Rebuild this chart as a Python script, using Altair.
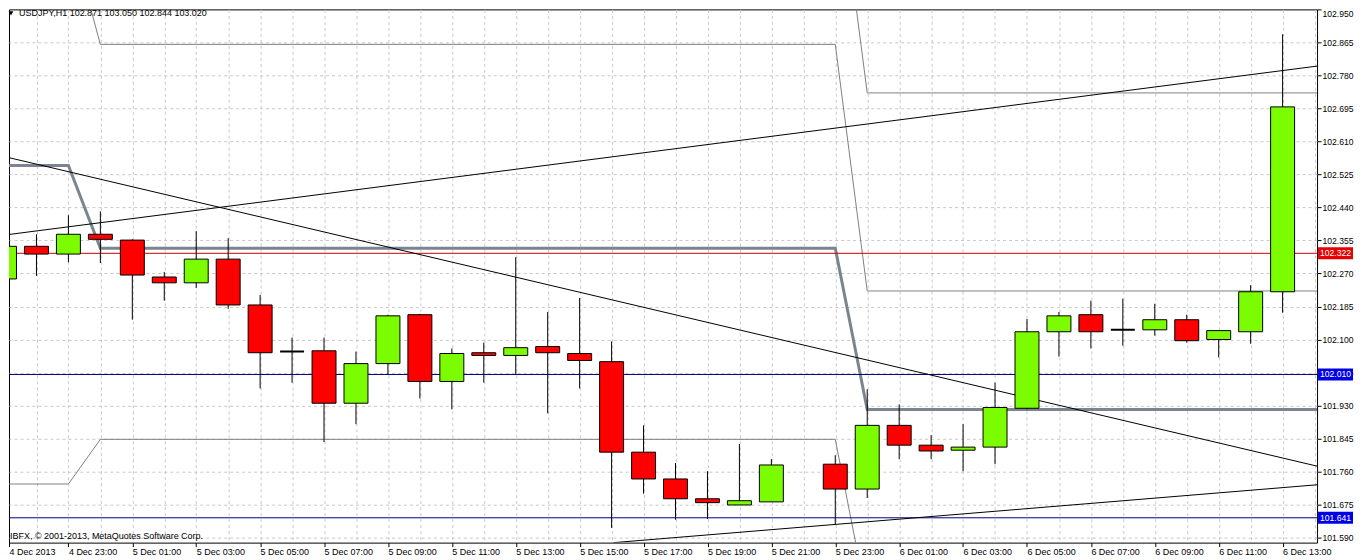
import altair as alt
import pandas as pd

# ---------------- data ----------------
# bar index: hours after 4 Dec 2013 21:00 (bar 25 = 5 Dec 22:00 not drawn)
BAR_K = [0, 1, 2, 3, 4, 5, 6, 7, 8, 9, 10, 11, 12, 13, 14, 15, 16, 17, 18, 19,
         20, 21, 22, 23, 24, 26, 27, 28, 29, 30, 31, 32, 33, 34, 35, 36, 37, 38, 39, 40]
OPEN = [102.256, 102.340, 102.320, 102.371, 102.356, 102.261, 102.246, 102.307, 102.189, 102.069,
        102.071, 101.936, 102.038, 102.164, 101.992, 102.066, 102.059, 102.082, 102.064, 102.043,
        101.810, 101.741, 101.690, 101.674, 101.682, 101.779, 101.715, 101.879, 101.828, 101.815,
        101.823, 101.923, 102.120, 102.164, 102.125, 102.125, 102.151, 102.100, 102.120, 102.223]
HIGH = [102.346, 102.371, 102.420, 102.430, 102.358, 102.274, 102.379, 102.361, 102.215, 102.105,
        102.105, 102.069, 102.164, 102.166, 102.077, 102.092, 102.312, 102.171, 102.207, 102.095,
        101.879, 101.782, 101.761, 101.831, 101.792, 101.802, 101.972, 101.933, 101.854, 101.882,
        101.989, 102.153, 102.171, 102.200, 102.205, 102.192, 102.164, 102.123, 102.240, 102.886]
LOW = [102.189, 102.264, 102.299, 102.297, 102.151, 102.200, 102.233, 102.179, 101.974, 101.989,
       101.836, 101.882, 102.010, 101.948, 101.920, 101.989, 102.010, 101.910, 101.974, 101.615,
       101.703, 101.636, 101.638, 101.674, 101.682, 101.623, 101.692, 101.792, 101.792, 101.761,
       101.779, 101.920, 102.056, 102.077, 102.084, 102.110, 102.092, 102.054, 102.089, 102.169]
CLOSE = [102.340, 102.320, 102.371, 102.358, 102.266, 102.246, 102.307, 102.189, 102.066, 102.069,
         101.936, 102.038, 102.161, 101.992, 102.064, 102.059, 102.079, 102.066, 102.046, 101.810,
         101.741, 101.690, 101.680, 101.685, 101.777, 101.715, 101.879, 101.828, 101.813, 101.823,
         101.925, 102.120, 102.161, 102.120, 102.125, 102.151, 102.097, 102.123, 102.223, 102.699]

TIME_LABELS = ["4 Dec 2013", "4 Dec 23:00", "5 Dec 01:00", "5 Dec 03:00", "5 Dec 05:00",
               "5 Dec 07:00", "5 Dec 09:00", "5 Dec 11:00", "5 Dec 13:00", "5 Dec 15:00",
               "5 Dec 17:00", "5 Dec 19:00", "5 Dec 21:00", "5 Dec 23:00", "6 Dec 01:00",
               "6 Dec 03:00", "6 Dec 05:00", "6 Dec 07:00", "6 Dec 09:00", "6 Dec 11:00",
               "6 Dec 13:00"]
Y_TICKS = [101.590, 101.675, 101.760, 101.845, 101.930, 102.015, 102.100, 102.185, 102.270,
           102.355, 102.440, 102.525, 102.610, 102.695, 102.780, 102.865, 102.950]

# thick gray pivot step line
PIVOT_K = [0, 2, 3, 26, 27, 42]
PIVOT_V = [102.548, 102.548, 102.335, 102.335, 101.920, 101.920]
# thin gray band lines
UPPER_K = [0, 2, 3, 26, 27, 42]
UPPER_V = [103.165, 103.165, 102.860, 102.860, 102.225, 102.225]
R2_K = [26, 27, 42]
R2_V = [103.370, 102.735, 102.735]
LOWER_K = [0, 2, 3, 26, 27, 42]
LOWER_V = [101.728, 101.728, 101.843, 101.843, 101.426, 101.426]
# black trend lines
TREND_DOWN_K = [0, 41.08]
TREND_DOWN_V = [102.571, 101.774]
TREND_UP_K = [0, 41.08]
TREND_UP_V = [102.369, 102.804]
TREND_LOW_K = [19.06, 41.08]
TREND_LOW_V = [101.577, 101.726]
# horizontal price levels
LEVELS = [102.322, 102.010, 101.641]
LEVEL_LINE_COLORS = ["#C80000", "#000080", "#000080"]
LEVEL_BOX_COLORS = ["#E60000", "#0000E6", "#0000E6"]

TITLE = "USDJPY,H1  102.871 103.050 102.844 103.020"
COPYRIGHT = "IBFX, \u00a9 2001-2013, MetaQuotes Software Corp."

# ---------------- chart ----------------
FONT = "Liberation Sans"
FS = 9
YFS = 8.6
W, H = 1310, 534
XMIN = 0.140625
XMAX = XMIN + W / 32.0
YMIN, YMAX = 101.5771, 102.950

candles = pd.DataFrame({"k": BAR_K, "o": OPEN, "h": HIGH, "l": LOW, "c": CLOSE})
candles["fill"] = [
    "#7CFC00" if c > o else ("#FF0000" if c < o else "#000000")
    for o, c in zip(OPEN, CLOSE)
]
candles["sw"] = [2 if c == o else 1 for o, c in zip(OPEN, CLOSE)]

thin = pd.concat([
    pd.DataFrame({"k": UPPER_K, "v": UPPER_V, "s": "upper"}),
    pd.DataFrame({"k": R2_K, "v": R2_V, "s": "r2"}),
    pd.DataFrame({"k": LOWER_K, "v": LOWER_V, "s": "lower"}),
])
pivot = pd.DataFrame({"k": PIVOT_K, "v": PIVOT_V})
trends = pd.concat([
    pd.DataFrame({"k": TREND_DOWN_K, "v": TREND_DOWN_V, "s": "down"}),
    pd.DataFrame({"k": TREND_UP_K, "v": TREND_UP_V, "s": "up"}),
    pd.DataFrame({"k": TREND_LOW_K, "v": TREND_LOW_V, "s": "low"}),
])
levels = pd.DataFrame({"v": LEVELS, "line": LEVEL_LINE_COLORS, "box": LEVEL_BOX_COLORS})

xs = alt.Scale(domain=[XMIN, XMAX], nice=False, zero=False, padding=0)
ys = alt.Scale(domain=[YMIN, YMAX], nice=False, zero=False, padding=0)

labels_js = "[" + ",".join("'" + t + "'" for t in TIME_LABELS) + "]"
x_axis = alt.Axis(
    values=[XMIN] + list(range(1, 42)),
    labelExpr=f"datum.value < 1 ? {labels_js}[0] : (datum.value % 2 == 0 ? {labels_js}[datum.value / 2] : '')",
    grid=True, gridDash=[3, 3], gridColor="#c8c8c8", gridWidth=1,
    gridOpacity={"condition": {"test": "datum.value < 1", "value": 0}, "value": 1},
    tickSize=4, tickColor="black",
    tickOpacity={"condition": {"test": "datum.value < 1 || datum.value % 2 == 0", "value": 1}, "value": 0},
    labelAlign="left", labelPadding=1, labelFont=FONT, labelFontSize=FS, labelColor="black",
    labelOverlap=False, domain=False, title=None,
)
y_axis = alt.Axis(
    orient="right", values=Y_TICKS, format=".3f",
    grid=True, gridDash=[3, 3], gridColor="#c8c8c8", gridWidth=1,
    gridOpacity={"condition": {"test": "datum.value > 102.94", "value": 0}, "value": 1},
    tickSize=4, tickColor="black", labelPadding=1, labelAlign="left",
    labelFont=FONT, labelFontSize=YFS, labelColor="black", labelFlush=True,
    labelOverlap=False, domain=False, title=None,
)

X = lambda f: alt.X(f, type="quantitative", scale=xs, axis=x_axis)
Y = lambda f: alt.Y(f, type="quantitative", scale=ys, axis=y_axis)

thin_layer = alt.Chart(thin).mark_line(color="#808080", strokeWidth=1, clip=True).encode(
    x=X("k"), y=Y("v"), detail="s:N")
pivot_layer = alt.Chart(pivot).mark_line(color="#7A858F", strokeWidth=3, clip=True).encode(
    x=X("k"), y=Y("v"))
level_layer = alt.Chart(levels).mark_rule(strokeWidth=1, clip=True).encode(
    y=Y("v"), color=alt.Color("line:N", scale=None))
trend_layer = alt.Chart(trends).mark_line(color="black", strokeWidth=1, clip=True).encode(
    x=X("k"), y=Y("v"), detail="s:N")
wick_layer = alt.Chart(candles).mark_rule(color="black", strokeWidth=1, clip=True).encode(
    x=X("k"), y=Y("l"), y2="h")
body_layer = alt.Chart(candles).mark_bar(size=24, stroke="black", clip=True,
                                         opacity=1).encode(
    x=X("k"), y=Y("o"), y2="c", fill=alt.Fill("fill:N", scale=None),
    strokeWidth=alt.StrokeWidth("sw:Q", scale=None))
box_layer = alt.Chart(levels).mark_tick(orient="horizontal", thickness=12, size=35,
                                        clip=False, opacity=1).encode(
    x=alt.value(W + 18.5), y=Y("v"), color=alt.Color("box:N", scale=None))
box_text = alt.Chart(levels).mark_text(align="center", baseline="middle", color="white",
                                       font=FONT, fontSize=YFS, clip=False).encode(
    x=alt.value(W + 18.5), y=Y("v"), text=alt.Text("v:Q", format=".3f"))
title_text = alt.Chart(pd.DataFrame({"t": [TITLE]})).mark_text(
    align="left", baseline="top", color="black", font=FONT, fontSize=FS).encode(
    x=alt.value(10), y=alt.value(0), text="t:N")
tri = alt.Chart(pd.DataFrame({"t": [TITLE]})).mark_point(
    shape="triangle-down", filled=True, color="black", size=22, opacity=1).encode(
    x=alt.value(2), y=alt.value(4))
copy_text = alt.Chart(pd.DataFrame({"t": [COPYRIGHT]})).mark_text(
    align="left", baseline="middle", color="black", font=FONT, fontSize=FS).encode(
    x=alt.value(1), y=alt.value(527), text="t:N")

chart = alt.layer(
    thin_layer, pivot_layer, level_layer, trend_layer, wick_layer, body_layer,
    box_layer, box_text, title_text, tri, copy_text,
).properties(
    width=W, height=H,
    padding={"left": 0, "top": 0, "right": 0, "bottom": 0},
    background="white",
).configure_view(stroke="black", strokeWidth=1)

chart.save("out.html", embed_options={"renderer": "svg", "actions": False})
